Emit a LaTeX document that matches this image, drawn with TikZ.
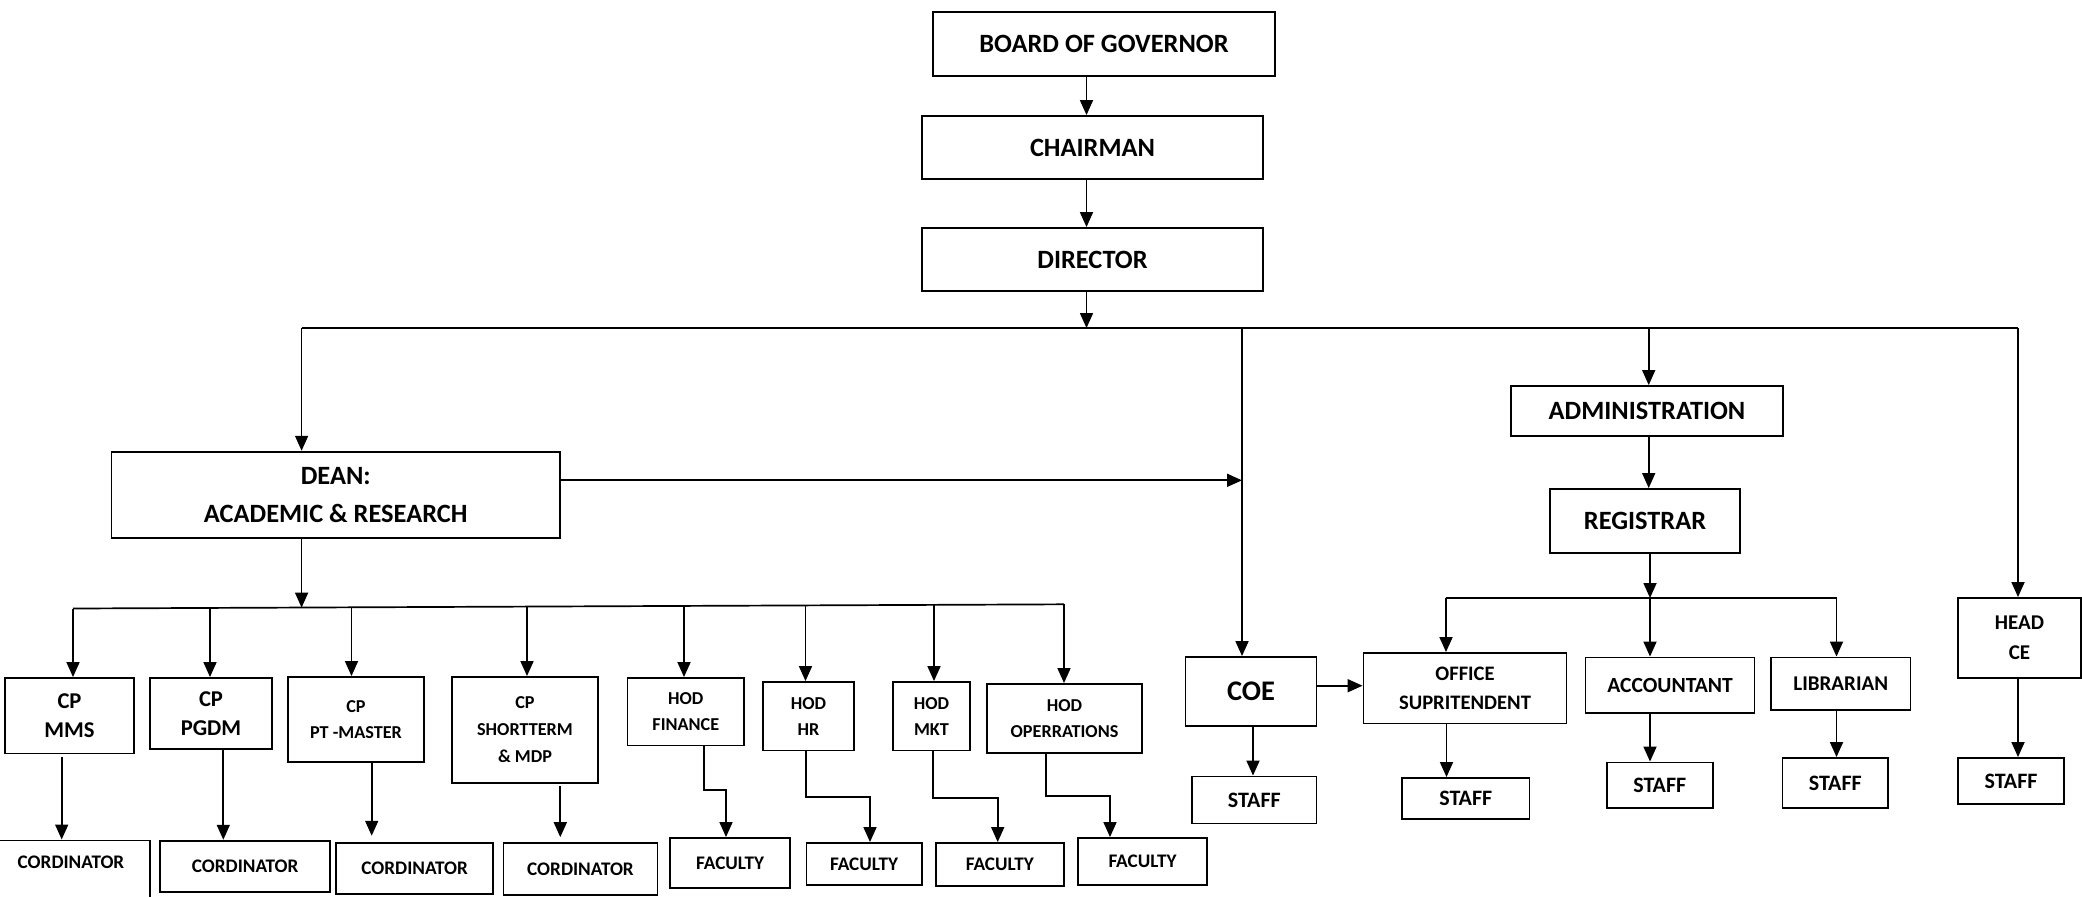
\documentclass[tikz,border=0pt]{standalone}
\usepackage{fontspec}
\setmainfont{Carlito}
\usetikzlibrary{arrows.meta}
\newcommand\ftBig{\fontsize{13.2}{19}\selectfont\bfseries}
\newcommand\ftCoe{\fontsize{14.2}{17}\selectfont\bfseries}
\newcommand\ftMid{\fontsize{11.3}{14.7}\selectfont\bfseries}
\newcommand\ftSm{\fontsize{10.5}{14.8}\selectfont\bfseries}
\newcommand\ftOff{\fontsize{10.3}{14.8}\selectfont\bfseries}
\newcommand\ftAcc{\fontsize{10.8}{14.8}\selectfont\bfseries}
\newcommand\ftStf{\fontsize{11}{14.8}\selectfont\bfseries}
\newcommand\ftCrd{\fontsize{9.6}{14.8}\selectfont\bfseries}
\newcommand\ftTy{\fontsize{9.1}{13}\selectfont\bfseries}
\newcommand\ftTyb{\fontsize{9.1}{13.5}\selectfont\bfseries}
\newcommand\orgbox[7]{\node[bx, font=#6, minimum width={(#4-#2)*0.5pt}, minimum height={(#5-#3)*0.5pt}] (#1) at ({(#2+#4)/2},{(#3+#5)/2}) {#7};}
\begin{document}
\begin{tikzpicture}[x=0.5pt, y=-0.5pt,
  bx/.style={draw, line width=0.95pt, align=center, inner sep=0pt},
  arr/.style={line width=0.85pt, -{Triangle[length=7.5pt,width=6.5pt]}},
  ln/.style={line width=0.85pt}]
\fill[white] (0,0) rectangle (2082,896);
\useasboundingbox (0,0) rectangle (2082,896);
\clip (0,0) rectangle (2082,896);

% top chain
\orgbox{bog}{933}{12}{1275}{76}{\ftBig}{BOARD OF GOVERNOR}
\orgbox{chair}{922}{116}{1263}{179}{\ftBig}{CHAIRMAN}
\orgbox{dir}{922}{228}{1263}{291}{\ftBig}{DIRECTOR}
\orgbox{dean}{111.5}{451.7}{560}{538}{\ftBig}{DEAN:\\ACADEMIC \& RESEARCH}
\orgbox{admin}{1511}{386}{1783}{436}{\ftBig}{ADMINISTRATION}
\orgbox{reg}{1550}{489}{1740}{553}{\ftBig}{REGISTRAR}

% academic row
\orgbox{cpmms}{5}{678}{134}{753.5}{\ftMid}{CP\\MMS}
\orgbox{cppgdm}{150}{678}{272}{749}{\ftMid}{CP\\PGDM}
\orgbox{cppt}{288}{677}{424}{762}{\ftTy}{CP\\PT -MASTER}
\orgbox{cpst}{452}{677}{598}{783}{\ftTyb}{CP\\SHORTTERM\\\& MDP}
\orgbox{hodfin}{627.5}{678}{744}{745.5}{\ftTy}{HOD\\FINANCE}
\orgbox{hodhr}{763}{682}{854}{750.5}{\ftTy}{HOD\\HR}
\orgbox{hodmkt}{893}{682}{970}{750.5}{\ftTy}{HOD\\MKT}
\orgbox{hodops}{987}{684}{1142}{753}{\ftTy}{HOD\\OPERRATIONS}

% admin row
\orgbox{coe}{1185.5}{657}{1316.5}{726}{\ftCoe}{COE}
\orgbox{office}{1363.5}{653}{1566.5}{723.5}{\ftOff}{OFFICE\\SUPRITENDENT}
\orgbox{acct}{1585.5}{657.5}{1754.5}{713}{\ftAcc}{ACCOUNTANT}
\orgbox{lib}{1771}{657.5}{1910.5}{710}{\ftSm}{LIBRARIAN}
\orgbox{headce}{1958}{598}{2081}{678}{\ftSm}{HEAD\\CE}

% bottom row
\node[bx, minimum width={158*0.5pt}, minimum height={120*0.5pt}, anchor=north] (co1) at (71,839.5) {};
\node[font=\ftCrd, inner sep=0pt] (co1t) at (71,862.7) {CORDINATOR};
\orgbox{co2}{160.3}{840.7}{330}{891.7}{\ftCrd}{CORDINATOR}
\orgbox{co3}{336}{842.7}{493.3}{894}{\ftCrd}{CORDINATOR}
\orgbox{co4}{503.5}{842.7}{657.5}{895}{\ftCrd}{CORDINATOR}
\orgbox{fac1}{670}{838}{790.3}{888}{\ftCrd}{FACULTY}
\orgbox{fac2}{806.5}{843}{921.7}{885}{\ftCrd}{FACULTY}
\orgbox{fac3}{935.7}{843}{1064}{885.7}{\ftCrd}{FACULTY}
\orgbox{fac4}{1078}{838}{1207}{885}{\ftCrd}{FACULTY}
\orgbox{stcoe}{1192}{776.5}{1316.5}{823.5}{\ftStf}{STAFF}
\orgbox{stoff}{1402}{778}{1529.5}{819}{\ftStf}{STAFF}
\orgbox{stacc}{1606.6}{762.5}{1713}{808}{\ftStf}{STAFF}
\orgbox{stlib}{1782.5}{758}{1888}{808}{\ftStf}{STAFF}
\orgbox{sthce}{1958}{758}{2064}{804}{\ftStf}{STAFF}

% top connectors
\coordinate (vtop) at (1086.5,0);
\draw[arr] (bog.south -| vtop) -- (chair.north -| vtop);
\draw[arr] (chair.south -| vtop) -- (dir.north -| vtop);
\coordinate (busL) at (301.6,328);
\coordinate (busR) at (2018,328);
\draw[ln] (busL) -- (busR);
\draw[arr] (dir.south -| vtop) -- (busL -| vtop);
\draw[arr] (busL) -- (busL |- dean.north);
\coordinate (coeT) at (1242,328);
\draw[arr] (coeT) -- (coeT |- coe.north);
\coordinate (admT) at (1648.7,328);
\draw[arr] (admT) -- (admT |- admin.north);
\draw[arr] (busR) -- (busR |- headce.north);
\coordinate (dj) at (1242,480.3);
\draw[arr] (dean.east |- dj) -- (dj);
\draw[arr] (admin.south -| admT) -- (reg.north -| admT);

% registrar bus
\coordinate (rL) at (1446,598);
\coordinate (rM) at (1650,598);
\coordinate (rR) at (1836.5,598);
\draw[ln] (rL) -- (rR);
\draw[arr] (reg.south -| rM) -- (rM);
\draw[arr] (rL) -- (rL |- office.north);
\draw[arr] (rM) -- (rM |- acct.north);
\draw[arr] (rR) -- (rR |- lib.north);

% COE to office
\coordinate (coy) at (0,685.7);
\draw[arr] (coe.east |- coy) -- (office.west |- coy);

% staff arrows
\coordinate (s1) at (1253,0);
\coordinate (s2) at (1446.5,0);
\draw[arr] (coe.south -| s1) -- (stcoe.north -| s1);
\draw[arr] (office.south -| s2) -- (stoff.north -| s2);
\draw[arr] (acct.south -| rM) -- (stacc.north -| rM);
\draw[arr] (lib.south -| rR) -- (stlib.north -| rR);
\draw[arr] (headce.south -| busR) -- (sthce.north -| busR);

% dean bus
\coordinate (d1) at (73,608.5);
\coordinate (d2) at (210,607.9);
\coordinate (d3) at (351.5,607.3);
\coordinate (d4) at (527,606.6);
\coordinate (d5) at (684,605.9);
\coordinate (d6) at (805.5,605.4);
\coordinate (d7) at (934,604.85);
\coordinate (d8) at (1064,604.3);
\coordinate (dbD) at (301.6,607.6);
\draw[ln] (d1) -- (d8);
\draw[arr] (dean.south -| dbD) -- (dbD);
\draw[arr] (d1) -- (d1 |- cpmms.north);
\draw[arr] (d2) -- (d2 |- cppgdm.north);
\draw[arr] (d3) -- (d3 |- cppt.north);
\draw[arr] (d4) -- (d4 |- cpst.north);
\draw[arr] (d5) -- (d5 |- hodfin.north);
\draw[arr] (d6) -- (d6 |- hodhr.north);
\draw[arr] (d7) -- (d7 |- hodmkt.north);
\draw[arr] (d8) -- (d8 |- hodops.north);

% CP to coordinators
\coordinate (c1) at (61.7,0);
\coordinate (c2) at (223.3,0);
\coordinate (c3) at (371.7,0);
\coordinate (c4) at (560.3,0);
\draw[arr, shorten <=1.5pt] (cpmms.south -| c1) -- (co1.north -| c1);
\draw[arr] (cppgdm.south -| c2) -- (co2.north -| c2);
\draw[arr, shorten >=3pt] (cppt.south -| c3) -- (co3.north -| c3);
\draw[arr, shorten >=2.3pt, shorten <=1pt] (cpst.south -| c4) -- (co4.north -| c4);

% HOD elbows
\coordinate (f1a) at (704.3,790);
\coordinate (f1b) at (726,790);
\draw[arr] (hodfin.south -| f1a) -- (f1a) -- (f1b) -- (fac1.north -| f1b);
\coordinate (f2a) at (805.7,797);
\coordinate (f2b) at (870,797);
\draw[arr] (hodhr.south -| f2a) -- (f2a) -- (f2b) -- (fac2.north -| f2b);
\coordinate (f3a) at (933.3,798);
\coordinate (f3b) at (997.7,798);
\draw[arr] (hodmkt.south -| f3a) -- (f3a) -- (f3b) -- (fac3.north -| f3b);
\coordinate (f4a) at (1046,796);
\coordinate (f4b) at (1110,796);
\draw[arr] (hodops.south -| f4a) -- (f4a) -- (f4b) -- (fac4.north -| f4b);
\end{tikzpicture}
\end{document}
